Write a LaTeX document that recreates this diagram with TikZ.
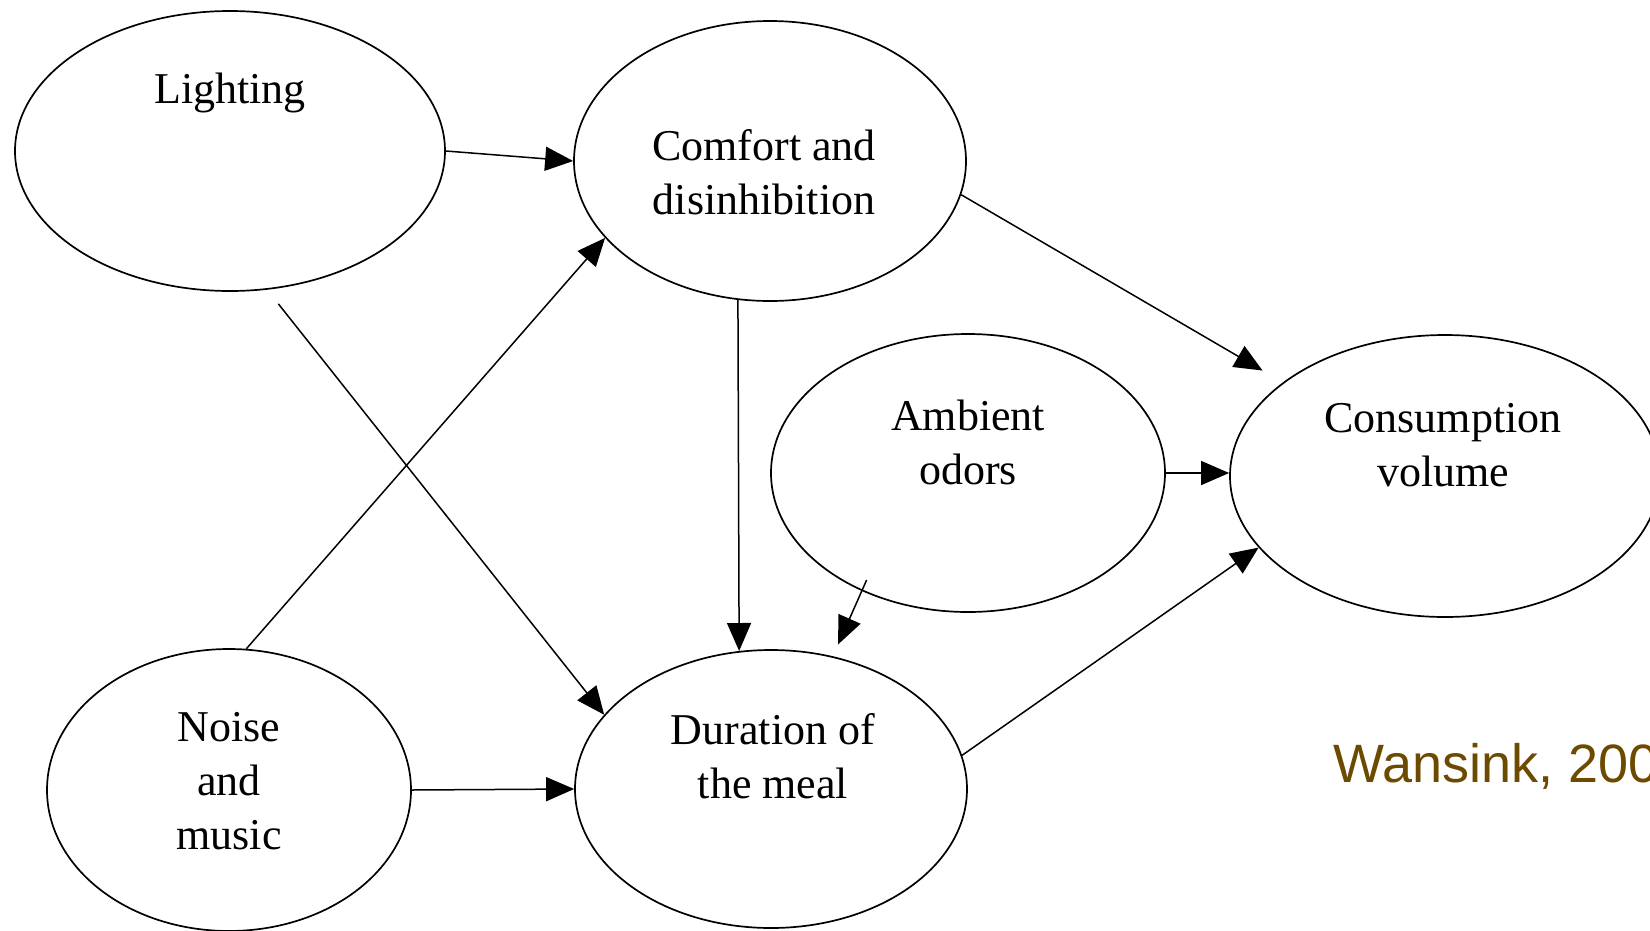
\documentclass[tikz,border=0pt]{standalone}
\usepackage{fontspec}
\setmainfont{Liberation Serif}
\newfontfamily\citefont{Liberation Sans}
\usetikzlibrary{shapes.geometric,arrows.meta}
\definecolor{citebrown}{RGB}{108,74,0}
\begin{document}
\begin{tikzpicture}[x=1pt,y=-1pt,
  factor/.style={ellipse, draw=black, line width=1.7pt, inner sep=0pt},
  factortext/.style={align=center, font=\fontsize{44}{54}\selectfont, inner sep=0pt},
  link/.style={line width=1.5pt, -{Triangle[length=28pt,width=24pt]}}]
\useasboundingbox (0,0) rectangle (1650,930);

% factor ellipses
\node[factor, minimum width=430pt, minimum height=280pt] (lighting) at (230,151) {};
\node[factor, minimum width=392pt, minimum height=280pt] (comfort)  at (770,161) {};
\node[factor, minimum width=394pt, minimum height=278pt] (ambient)  at (968,473) {};
\node[factor, minimum width=430pt, minimum height=282pt] (consume)  at (1445,476) {};
\node[factor, minimum width=364pt, minimum height=282pt] (noise)    at (229,790) {};
\node[factor, minimum width=392pt, minimum height=278pt] (duration) at (771,789) {};

% labels inside the ellipses
\node[factortext] (lighting-t) at (230,93)  {Lighting};
\node[factortext] (comfort-t)  at (764,172) {Comfort and\\disinhibition};
\node[factortext] (ambient-t)  at (968,442) {Ambient\\odors};
\node[factortext] (consume-t)  at (1443,445) {Consumption\\volume};
\node[factortext] (noise-t)    at (229,781) {Noise\\and\\music};
\node[factortext] (duration-t) at (773,756) {Duration of\\the meal};

% citation
\node[font=\citefont\fontsize{54}{60}\selectfont, text=citebrown, anchor=base west, inner sep=0pt]
  (cite) at (1333,782) {Wansink, 200};

% causal links
\draw[link] (lighting.east) -- (comfort.west);
\draw[link] (noise.83.5) -- (comfort.205);
\draw[link, shorten <=18pt] (lighting.285.4) -- (duration.156.9);
\draw[link] (comfort.257.4) -- (duration.103.1);
\draw[link, shorten <=-12pt, shorten >=13pt] (ambient.228.3) -- (duration.65);
\draw[link, shorten >=23.5pt] (comfort.350.5) -- (consume.150.1);
\draw[link] (ambient.east) -- (ambient.east -| consume.west);
\draw[link] (duration.10.45) -- (consume.201.2);
\draw[link] (noise.east) -- (duration.west);
\end{tikzpicture}
\end{document}
